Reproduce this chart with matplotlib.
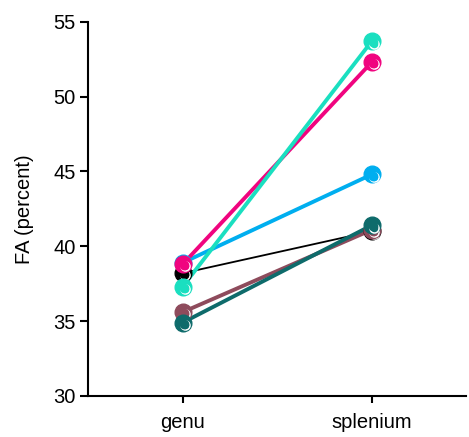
import matplotlib
matplotlib.use('Agg')
from matplotlib import pyplot as plt
from matplotlib import transforms

plt.rcParams['font.family'] = ['Liberation Sans', 'DejaVu Sans']

# data
regions = ['genu', 'splenium']
subjects = ['black', 'mauve', 'teal', 'blue', 'pink', 'cyan']
colors = ['#000000', '#8E4B5C', '#0E6B6B', '#00AEEF', '#F0047F', '#1ADFC0']
genu = [38.2, 35.6, 34.9, 38.9, 38.8, 37.3]
splenium = [41.0, 41.1, 41.4, 44.8, 52.3, 53.7]

fig = plt.figure(figsize=(4.69, 4.37), dpi=100)
ax = fig.add_axes([0.188, 0.094, 0.806, 0.856])

x = [0, 1]
for name, c, g, s in zip(subjects, colors, genu, splenium):
    lw = 1.3 if name == 'black' else 2.8
    ax.plot(x, [g, s], color=c, lw=lw, zorder=2)
    ax.plot(x, [g, s], 'o', color=c, ms=12, mec=c, lw=0, zorder=3)
    # white highlight crescent (lower right)
    off = transforms.offset_copy(ax.transData, fig=fig, x=1.6, y=-1.6, units='points')
    ax.plot(x, [g, s], 'o', mfc='none', mec='white', mew=1.1, ms=6.5, lw=0,
            transform=off, zorder=3)
    off2 = transforms.offset_copy(ax.transData, fig=fig, x=0.9, y=-0.8, units='points')
    ax.plot(x, [g, s], 'o', color=c, ms=6, lw=0, transform=off2, zorder=3)

ax.set_xlim(-0.5, 1.5)
ax.set_ylim(30, 55)
ax.set_yticks([30, 35, 40, 45, 50, 55])
ax.set_xticks(x)
ax.set_xticklabels(regions)
ax.set_ylabel('FA (percent)', fontsize=14.5, labelpad=14)

for side in ['top', 'right']:
    ax.spines[side].set_visible(False)
for side in ['left', 'bottom']:
    ax.spines[side].set_linewidth(1.5)
ax.tick_params(axis='both', labelsize=14.5, width=1.5, length=6, direction='out')
ax.tick_params(axis='y', pad=3)
ax.tick_params(axis='x', length=5, pad=7)

fig.savefig('out.png', dpi=100)
